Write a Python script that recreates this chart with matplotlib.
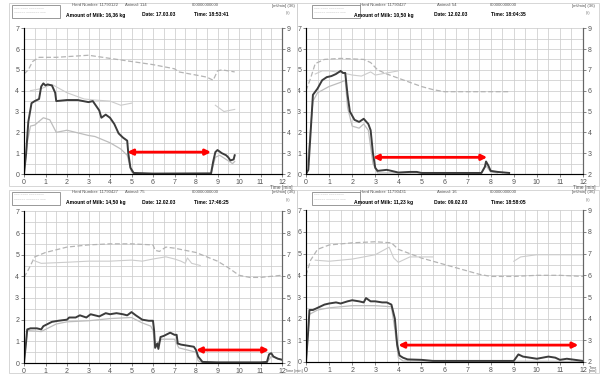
import numpy as np
import matplotlib
matplotlib.use("Agg")
import matplotlib.pyplot as plt
from matplotlib.patches import Rectangle

plt.rcParams["font.family"] = ["Liberation Sans", "DejaVu Sans"]

# ---- data (time in min, values on left axis scale) ----
# top-left: Herd 11790122, Animal 114
tl_flow_t = [0, 0.1, 0.2, 0.35, 0.5, 0.7, 0.8, 0.9, 1.0, 1.1, 1.3, 1.45, 1.5, 2.0, 2.5, 3.0, 3.2, 3.4, 3.5,
             3.6, 3.8, 4.0, 4.2, 4.4, 4.6, 4.8, 4.85, 4.95, 5.1, 6.0, 8.7, 8.8, 8.9, 9.0, 9.2, 9.4, 9.5, 9.6, 9.75, 9.8]
tl_flow = [0, 1.0, 2.5, 3.4, 3.5, 3.6, 4.2, 4.35, 4.25, 4.3, 4.25, 3.9, 3.5, 3.55, 3.55, 3.45, 3.5, 3.2, 3.05,
           2.7, 2.85, 2.7, 2.4, 1.95, 1.75, 1.6, 1.0, 0.3, 0.05, 0.02, 0.03, 0.6, 1.05, 1.15, 1.0, 0.9, 0.8, 0.65, 0.7, 0.9]
tl_low_t = [0, 0.15, 0.3, 0.5, 0.9, 1.2, 1.5, 2.0, 2.4, 3.0, 3.3, 4.0, 4.5, 4.8, 5.0, 5.2, 8.7, 8.9, 9.1, 9.4, 9.7, 9.8]
tl_low = [0, 1.5, 2.3, 2.35, 2.7, 2.6, 2.0, 2.1, 2.0, 1.85, 1.8, 1.5, 1.2, 0.9, 0.1, 0.0, 0.0, 0.8, 0.9, 0.7, 0.5, 0.6]
tl_up_t = [0.3, 0.8, 1.3, 2.0, 2.8, 3.3, 4.0, 4.5, 5.0, np.nan, 8.9, 9.3, 9.8]
tl_up = [4.0, 4.1, 4.3, 3.9, 3.6, 3.55, 3.5, 3.3, 3.4, np.nan, 3.3, 3.0, 3.1]
tl_cond_t = [0, 0.2, 0.4, 0.7, 1.5, 3.0, 4.0, 5.0, 6.0, 7.0, 7.2, 8.0, 8.5, 8.8, 9.0, 9.2, 9.8]
tl_cond = [4.8, 5.0, 5.4, 5.6, 5.6, 5.7, 5.55, 5.4, 5.25, 5.05, 4.9, 4.75, 4.65, 4.5, 4.95, 5.0, 4.9]
tl_arrow = (4.8, 8.7, 1.05)

# top-right: Herd 11790427, Animal 54
tr_flow_t = [0, 0.1, 0.2, 0.3, 0.5, 0.7, 0.9, 1.1, 1.3, 1.5, 1.6, 1.7, 1.8, 1.9, 2.1, 2.3, 2.5, 2.7, 2.8, 2.9,
             3.0, 3.1, 3.5, 3.7, 4.0, 4.5, 4.8, 5.0, 6.0, 7.0, 7.6, 7.75, 7.8, 7.9, 8.0, 8.3, 8.8]
tr_flow = [0, 0.2, 2.0, 3.8, 4.1, 4.5, 4.65, 4.7, 4.8, 4.95, 4.85, 4.85, 3.8, 3.0, 2.6, 2.5, 2.65, 2.4, 2.1, 1.0,
           0.3, 0.15, 0.2, 0.15, 0.07, 0.1, 0.1, 0.05, 0.05, 0.05, 0.05, 0.35, 0.6, 0.4, 0.15, 0.1, 0.05]
tr_low_t = [0, 0.15, 0.3, 0.5, 1.0, 1.5, 1.7, 1.8, 2.0, 2.3, 2.5, 2.7, 2.9, 3.1, 7.6, 7.8, 8.0, 8.3]
tr_low = [0, 1.5, 3.5, 3.9, 4.2, 4.4, 4.5, 3.2, 2.3, 2.2, 2.4, 2.1, 0.5, 0.05, 0.05, 0.4, 0.1, 0.05]
tr_up_t = [0.4, 0.7, 1.0, 1.6, 2.0, 2.4, 2.8, 3.0, 3.5, 4.0]
tr_up = [4.8, 4.95, 4.95, 4.85, 4.75, 4.7, 4.9, 4.75, 4.85, 4.95]
tr_cond_t = [0, 0.2, 0.4, 0.8, 1.5, 2.5, 2.8, 3.1, 3.5, 4.0, 4.5, 5.0, 5.5, 6.0, 7.0, 8.0, 8.8]
tr_cond = [4.0, 4.6, 5.3, 5.5, 5.55, 5.5, 5.35, 5.0, 4.8, 4.6, 4.4, 4.2, 4.05, 3.95, 3.95, 3.95, 3.95]
tr_arrow = (2.9, 7.85, 0.8)

# bottom-left: Herd 11790427, Animal 75
bl_flow_t = [0, 0.1, 0.15, 0.3, 0.6, 0.8, 0.9, 1.1, 1.3, 1.6, 2.0, 2.1, 2.4, 2.6, 2.9, 3.1, 3.3, 3.5, 3.8, 4.0,
             4.3, 4.6, 4.8, 5.0, 5.2, 5.5, 5.8, 6.0, 6.05, 6.1, 6.2, 6.25, 6.35, 6.5, 6.8, 7.0, 7.1, 7.15, 7.3,
             7.6, 7.9, 8.0, 8.1, 8.3, 9.0, 11.0, 11.3, 11.4, 11.5, 11.6, 11.8, 12.0]
bl_flow = [0, 1.0, 1.55, 1.6, 1.6, 1.55, 1.7, 1.8, 1.9, 1.95, 2.0, 2.1, 2.1, 2.2, 2.1, 2.25, 2.2, 2.15, 2.3, 2.25,
           2.3, 2.25, 2.2, 2.35, 2.2, 2.0, 1.95, 1.95, 1.5, 0.7, 0.9, 0.65, 1.2, 1.25, 1.4, 1.3, 1.3, 0.9, 0.85,
           0.8, 0.75, 0.6, 0.3, 0.05, 0.03, 0.03, 0.05, 0.4, 0.45, 0.3, 0.2, 0.15]
bl_low_t = [0, 0.15, 0.8, 1.5, 2.0, 3.0, 4.0, 5.0, 5.5, 5.9, 6.0, 6.1, 6.4, 7.0, 7.2, 8.0, 8.1, 8.3, 11.3, 11.5, 12.0]
bl_low = [0, 1.5, 1.45, 1.8, 1.9, 1.95, 2.05, 2.1, 1.85, 1.7, 1.5, 0.8, 1.1, 1.1, 0.7, 0.5, 0.1, 0.02, 0.02, 0.3, 0.15]
bl_up_t = [0.4, 0.8, 2.0, 3.0, 4.0, 5.0, 5.5, 6.0, 6.3, 6.6, 7.0, 7.3, 7.5, 7.6, 7.8, 8.2]
bl_up = [4.75, 4.6, 4.65, 4.7, 4.7, 4.75, 4.7, 4.8, 4.85, 4.9, 4.8, 4.7, 4.6, 4.85, 4.6, 4.5]
bl_cond_t = [0, 0.2, 0.5, 1.0, 2.0, 3.0, 4.0, 5.0, 6.0, 6.1, 6.3, 6.6, 7.0, 8.0, 9.0, 9.5, 10.0, 10.5, 11.0, 11.5, 12.0]
bl_cond = [3.95, 4.3, 4.9, 5.1, 5.35, 5.45, 5.5, 5.5, 5.45, 5.2, 5.15, 5.35, 5.3, 5.1, 4.7, 4.4, 4.05, 3.95, 3.95, 4.0, 4.05]
bl_arrow = (8.0, 11.4, 0.6)

# bottom-right: Herd 11790431, Animal 16
br_flow_t = [0, 0.1, 0.15, 0.3, 0.5, 0.8, 1.0, 1.3, 1.5, 1.8, 2.0, 2.3, 2.5, 2.6, 2.8, 3.0, 3.3, 3.5, 3.7, 3.85,
             3.95, 4.05, 4.2, 4.4, 5.0, 5.5, 6.0, 8.0, 9.0, 9.2, 9.4, 10.0, 10.5, 10.8, 11.0, 11.3, 12.0]
br_flow = [0, 1.5, 2.4, 2.4, 2.5, 2.65, 2.7, 2.75, 2.7, 2.8, 2.85, 2.8, 2.75, 2.95, 2.8, 2.8, 2.75, 2.75, 2.65, 2.0,
           0.8, 0.3, 0.2, 0.12, 0.1, 0.05, 0.05, 0.05, 0.05, 0.35, 0.25, 0.15, 0.25, 0.2, 0.1, 0.15, 0.05]
br_low_t = [0, 0.15, 0.5, 1.0, 2.0, 3.0, 3.7, 3.85, 4.0, 4.2, 12.0]
br_low = [0, 2.2, 2.4, 2.5, 2.6, 2.6, 2.55, 1.5, 0.2, 0.05, 0.03]
br_up_t = [0.4, 1.0, 2.0, 3.0, 3.6, 3.8, 4.0, 4.5, 5.5, np.nan, 9.0, 9.3, 10.0, 12.0]
br_up = [4.7, 4.65, 4.75, 4.95, 5.3, 4.8, 4.6, 4.85, 4.85, np.nan, 4.65, 4.85, 4.95, 4.95]
br_cond_t = [0, 0.2, 0.5, 1.0, 2.0, 3.0, 3.7, 4.0, 4.5, 5.0, 6.0, 7.0, 7.5, 8.0, 9.0, 10.0, 11.0, 12.0]
br_cond = [4.0, 4.7, 5.2, 5.4, 5.5, 5.55, 5.5, 5.2, 5.0, 4.8, 4.5, 4.2, 4.05, 3.95, 3.95, 4.0, 4.0, 3.95]
br_arrow = (4.0, 11.8, 0.78)

headers = [
    ("11790122", "114", "16,36", "17.03.03", "18:53:41"),
    ("11790427", "54", "10,50", "12.02.03", "18:04:35"),
    ("11790427", "75", "14,50", "12.02.03", "17:46:25"),
    ("11790431", "16", "11,23", "09.02.03", "18:58:05"),
]

# x offsets of header items (herd, animal, zeros, unit, amount, date, time)
left_cols = (72, 125, 192, 272, 66, 142, 194)
right_cols = (60, 137, 190, 272, 54, 134, 191)

W, H = 600, 374
fig = plt.figure(figsize=(6, 3.74), dpi=100)
fig.patch.set_facecolor("white")


def px(x, y):
    # pixel coords (top-left origin) -> figure fraction
    return x / W, 1 - y / H


def draw_panel(ax_px, ox, oy, curves, arrow, header, cols, time_lbl):
    x0, y0, x1, yb = ax_px
    ytop = yb - 7 * (yb - y0) / 6.0
    ax = fig.add_axes([x0 / W, 1 - yb / H, (x1 - x0) / W, (yb - ytop) / H])
    ax.set_xlim(0, 12)
    ax.set_ylim(0, 7)
    ax.set_xticks(np.arange(0, 12.01, 0.5), minor=True)
    ax.set_yticks(np.arange(0, 7.01, 0.5), minor=True)
    ax.set_xticks(range(13))
    ax.set_yticks(range(8))
    ax.grid(True, which="both", color="#cdcdcd", lw=0.55)
    ax.set_axisbelow(True)
    ax.tick_params(labelsize=5, colors="#555555", length=2, width=0.5, pad=1.5)
    ax.tick_params(which="minor", length=0)
    ax.spines["top"].set_visible(False)
    for s in ["left", "right", "bottom"]:
        ax.spines[s].set_color("#666666")
        ax.spines[s].set_linewidth(0.8)
    ax2 = ax.twinx()
    ax2.set_ylim(2, 9)
    ax2.set_yticks(range(2, 10))
    ax2.tick_params(labelsize=5, colors="#555555", length=2, width=0.5, pad=1.5)
    ax2.spines["top"].set_visible(False)
    ax2.spines["right"].set_color("#666666")
    ax2.spines["right"].set_linewidth(0.8)

    (ft, f), (lt, l), (ut, u), (ct, c) = curves
    ax.plot(ct, c, color="#b4b4b4", lw=0.9, ls=(0, (4, 2)))
    ax.plot(ut, u, color="#cccccc", lw=0.8)
    ax.plot(lt, l, color="#bdbdbd", lw=0.9)
    ax.plot(ft, f, color="#3c3c3c", lw=1.4)

    a0, a1, ay = arrow
    ax.annotate("", xy=(a1, ay), xytext=(a0, ay),
                arrowprops=dict(arrowstyle="<|-|>", color="#ff0000", lw=2.0,
                                mutation_scale=8, shrinkA=0, shrinkB=0))

    tx, ty, tha, tfs, ttxt = time_lbl
    fig.text(*px(tx, ty), ttxt, fontsize=tfs, color="#555555", ha=tha, va="center",
             linespacing=0.9, multialignment="center")

    herd, animal, milk, date, time = header
    ch, ca, cz, cu, cm, cd, ct_ = cols
    fig.patches.append(Rectangle(px(ox + 12, oy + 18), 48 / W, 13 / H,
                                 transform=fig.transFigure, fill=False,
                                 ec="#888888", lw=0.6))
    fig.text(*px(ox + 14, oy + 8.5), "~~~ ~~~~ ~~~~~~~~", fontsize=2.3, color="#999999", va="center")
    fig.text(*px(ox + 14, oy + 13), "~~~~~~ ~~~~~~~ ~~~", fontsize=2.3, color="#999999", va="center")
    fig.text(*px(ox + ch, oy + 5.5), "Herd Number: " + herd, fontsize=3.1, color="#555555", va="center")
    fig.text(*px(ox + ca, oy + 5.5), "Animal: " + animal, fontsize=3.1, color="#555555", va="center")
    fig.text(*px(ox + cz, oy + 5.5), "000000000000", fontsize=3.1, color="#555555", va="center")
    fig.text(*px(ox + cu, oy + 5.5), "[ml/min] (36)", fontsize=3.1, color="#555555", va="center")
    fig.text(*px(ox + cu + 14, oy + 13), "(lt)", fontsize=2.8, color="#777777", va="center")
    fig.text(*px(ox + cm, oy + 15), "Amount of Milk: " + milk + " kg", fontsize=3.6,
             fontweight="bold", va="center")
    fig.text(*px(ox + cd, oy + 15), "Date: " + date, fontsize=3.6, fontweight="bold", va="center")
    fig.text(*px(ox + ct_, oy + 15), "Time: " + time, fontsize=3.6, fontweight="bold", va="center")


# light frames around the four screenshots
for fx, fy, fw, fh in [(9, 3, 288, 183), (297, 3, 302, 183), (9, 190, 288, 183), (297, 190, 302, 183)]:
    fig.patches.append(Rectangle((fx / W, 1 - (fy + fh) / H), fw / W, fh / H,
                                 transform=fig.transFigure, fill=False, ec="#d0d0d0", lw=0.6))

draw_panel((24, 49, 282, 174), 0, 0,
           [(tl_flow_t, tl_flow), (tl_low_t, tl_low), (tl_up_t, tl_up), (tl_cond_t, tl_cond)],
           tl_arrow, headers[0], left_cols, (281, 187, "center", 3.4, "Time [min]"))
draw_panel((306, 49, 583, 174), 300, 0,
           [(tr_flow_t, tr_flow), (tr_low_t, tr_low), (tr_up_t, tr_up), (tr_cond_t, tr_cond)],
           tr_arrow, headers[1], right_cols, (584, 187, "center", 3.4, "Time [min]"))
draw_panel((24, 233, 282, 363), 0, 187,
           [(bl_flow_t, bl_flow), (bl_low_t, bl_low), (bl_up_t, bl_up), (bl_cond_t, bl_cond)],
           bl_arrow, headers[2], left_cols, (285, 371, "left", 2.7, "Time [min]"))
draw_panel((306, 232, 583, 362), 300, 187,
           [(br_flow_t, br_flow), (br_low_t, br_low), (br_up_t, br_up), (br_cond_t, br_cond)],
           br_arrow, headers[3], right_cols, (593, 369.5, "center", 2.8, "Time\n[min]"))

fig.savefig("out.png", dpi=100)
